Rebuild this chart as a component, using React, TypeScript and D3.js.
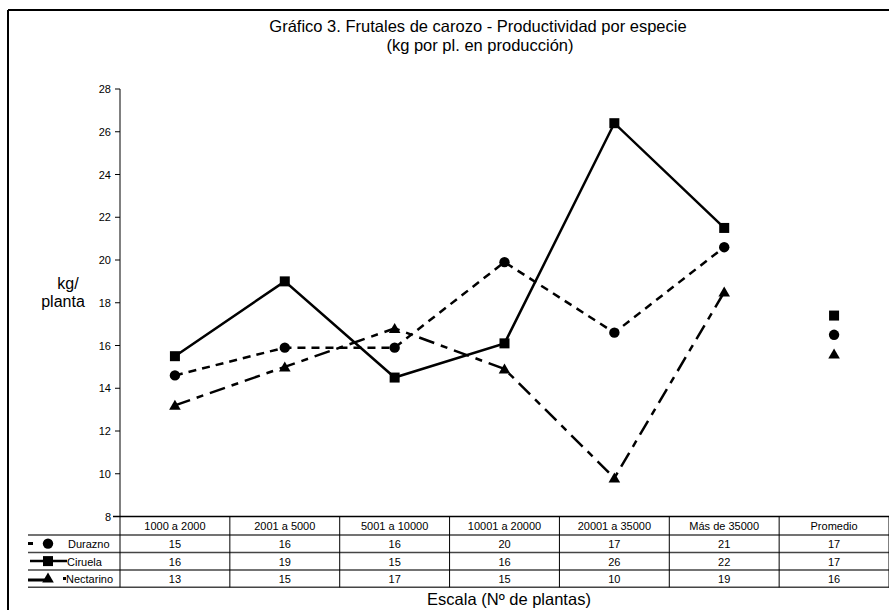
import * as d3 from "d3";

const categories = ["1000 a 2000", "2001 a 5000", "5001 a 10000", "10001 a 20000", "20001 a 35000", "Más de 35000", "Promedio"];
const durazno = [14.6, 15.9, 15.9, 19.9, 16.6, 20.6, 16.5];
const ciruela = [15.5, 19.0, 14.5, 16.1, 26.4, 21.5, 17.4];
const nectarino = [13.2, 15.0, 16.8, 14.9, 9.8, 18.5, 15.6];
const yTicks = [8, 10, 12, 14, 16, 18, 20, 22, 24, 26, 28];

const series = [
  { name: "Durazno", values: durazno, shape: "circle", dash: "8,6" },
  { name: "Ciruela", values: ciruela, shape: "square", dash: "none" },
  { name: "Nectarino", values: nectarino, shape: "triangle", dash: "16,7,7,7" },
];

const W = 889;
const H = 610;
const FONT = "'Liberation Sans', Arial, sans-serif";

function Marker({ shape, x, y }: { shape: string; x: number; y: number }) {
  if (shape === "circle") return <circle cx={x} cy={y} r={5.2} fill="#000" />;
  if (shape === "square") return <rect x={x - 5} y={y - 5} width={10} height={10} fill="#000" />;
  return <path d={`M${x},${y - 5.5}L${x + 5.8},${y + 4.5}L${x - 5.8},${y + 4.5}Z`} fill="#000" />;
}

export default function App() {
  const x = d3.scaleBand<string>().domain(categories).range([120, 889]);
  const y = d3.scaleLinear().domain([8, 28]).range([516.5, 89]);
  const cx = (c: string) => (x(c) as number) + x.bandwidth() / 2;

  const trend = categories.slice(0, 6);
  const line = d3
    .line<number>()
    .x((_, i) => cx(trend[i]))
    .y((d) => y(d));

  const headerTop = y(8);
  const rowTops = [535, 552.5, 570];
  const rowH = 17.3;
  const tableBottom = rowTops[2] + rowH;

  return (
    <svg width={W} height={H} style={{ position: "absolute", left: 0, top: 0, background: "#fff" }} fontFamily={FONT}>
      {/* frame */}
      <line x1={8} y1={10} x2={889} y2={10} stroke="#000" strokeWidth={2} />
      <line x1={8} y1={10} x2={8} y2={610} stroke="#000" strokeWidth={2} />

      {/* title */}
      <text x={478} y={32} textAnchor="middle" fontSize={16.5}>Gráfico 3. Frutales de carozo - Productividad por especie</text>
      <text x={480} y={51} textAnchor="middle" fontSize={16.5}>(kg por pl. en producción)</text>

      {/* y label */}
      <text x={68} y={289} textAnchor="middle" fontSize={16}>kg/</text>
      <text x={63} y={307} textAnchor="middle" fontSize={16}>planta</text>

      {/* y axis */}
      <line x1={120} y1={y(28)} x2={120} y2={y(8)} stroke="#808080" strokeWidth={2} />
      {yTicks.map((t) => (
        <g key={t}>
          <line x1={115} x2={120} y1={y(t)} y2={y(t)} stroke="#000" strokeWidth={1} />
          <text x={111} y={y(t) + 4} textAnchor="end" fontSize={11}>{t}</text>
        </g>
      ))}

      {/* lines */}
      {series.map((s) => (
        <path key={s.name} d={line(s.values.slice(0, 6)) as string} fill="none" stroke="#000" strokeWidth={2.5} strokeDasharray={s.dash} />
      ))}
      {series.map((s) => (
        <g key={s.name + "m"}>
          {s.values.map((v, i) => (
            <Marker key={i} shape={s.shape} x={cx(categories[i])} y={y(v)} />
          ))}
        </g>
      ))}

      {/* data table */}
      <line x1={113} y1={headerTop} x2={889} y2={headerTop} stroke="#000" strokeWidth={1.5} />
      {rowTops.map((r) => (
        <line key={r} x1={28} y1={r} x2={889} y2={r} stroke="#444" strokeWidth={1.5} />
      ))}
      <line x1={28} y1={tableBottom} x2={889} y2={tableBottom} stroke="#444" strokeWidth={1.5} />
      <line x1={120} y1={headerTop} x2={120} y2={tableBottom} stroke="#000" strokeWidth={1} />
      {categories.map((c) => (
        <g key={c}>
          <line x1={(x(c) as number) + x.bandwidth()} x2={(x(c) as number) + x.bandwidth()} y1={headerTop} y2={tableBottom} stroke="#000" strokeWidth={1} />
          <text x={cx(c)} y={headerTop + 13.5} textAnchor="middle" fontSize={11}>{c}</text>
        </g>
      ))}
      {series.map((s, si) => (
        <g key={s.name + "row"}>
          {s.values.map((v, i) => (
            <text key={i} x={cx(categories[i])} y={rowTops[si] + 13} textAnchor="middle" fontSize={11}>{Math.round(v)}</text>
          ))}
        </g>
      ))}

      {/* legend keys */}
      <rect x={28} y={rowTops[0] + 7} width={5} height={3} fill="#000" />
      <Marker shape="circle" x={48} y={rowTops[0] + 8.6} />
      <text x={68} y={rowTops[0] + 13} fontSize={11}>Durazno</text>

      <line x1={30} x2={67} y1={rowTops[1] + 8.6} y2={rowTops[1] + 8.6} stroke="#000" strokeWidth={2.5} />
      <Marker shape="square" x={48} y={rowTops[1] + 8.6} />
      <text x={67} y={rowTops[1] + 13} fontSize={11}>Ciruela</text>

      <line x1={28} x2={46} y1={rowTops[2] + 10} y2={rowTops[2] + 10} stroke="#000" strokeWidth={3} />
      <Marker shape="triangle" x={48} y={rowTops[2] + 8} />
      <rect x={63} y={rowTops[2] + 7} width={3} height={3} fill="#000" />
      <text x={66} y={rowTops[2] + 13} fontSize={11}>Nectarino</text>

      {/* x label */}
      <text x={509} y={605} textAnchor="middle" fontSize={16.5}>Escala (Nº de plantas)</text>
    </svg>
  );
}
